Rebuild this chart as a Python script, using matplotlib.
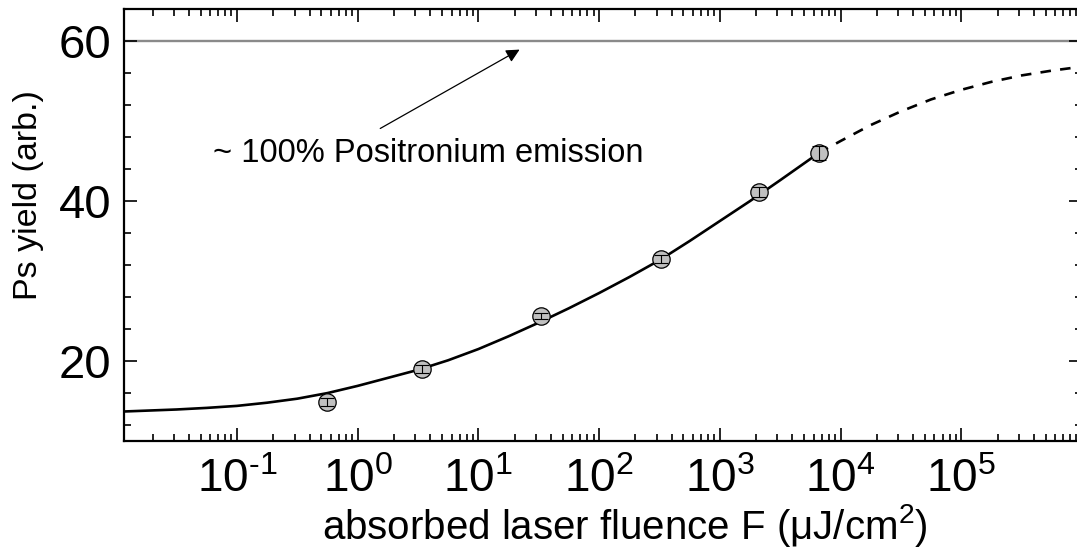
import matplotlib
matplotlib.use("Agg")
import matplotlib.pyplot as plt
from matplotlib.ticker import LogLocator, MultipleLocator, NullFormatter

plt.rcParams['font.family'] = ['Liberation Sans', 'DejaVu Sans']
plt.rcParams['mathtext.fontset'] = 'custom'
plt.rcParams['mathtext.rm'] = 'Liberation Sans'
plt.rcParams['mathtext.it'] = 'Liberation Sans:italic'
plt.rcParams['mathtext.default'] = 'regular'

# measured Ps yield vs absorbed fluence
fluence = [0.56, 3.4, 33, 325, 2100, 6600]
ps_yield = [14.9, 19.0, 25.6, 32.7, 41.1, 46.0]
yield_err = [0.5, 0.5, 0.4, 0.5, 0.6, 0.9]

# fit curve (solid part over data, dashed extrapolation)
fit_x = [0.0116, 0.0316, 0.0562, 0.1, 0.178, 0.316, 0.562, 1.0, 1.78, 3.16,
         5.62, 10, 17.8, 31.6, 56.2, 100, 178, 316, 562, 1000, 1780, 3160, 6600]
fit_y = [13.7, 13.95, 14.15, 14.4, 14.8, 15.3, 16.0, 16.9, 17.9, 18.9,
         20.1, 21.5, 23.1, 24.8, 26.6, 28.5, 30.5, 32.6, 35.0, 37.5, 40.0, 42.6, 46.0]
ext_x = [6600, 1e4, 1.78e4, 3.16e4, 5.62e4, 1e5, 1.78e5, 3.16e5, 5.62e5, 1e6]
ext_y = [46.0, 47.5, 49.5, 51.2, 52.7, 53.9, 54.9, 55.7, 56.3, 56.8]

x_ticks = [1e-1, 1, 10, 1e2, 1e3, 1e4, 1e5]
x_ticklabels = ['$10^{\u20101}$', '$10^{0}$', '$10^{1}$', '$10^{2}$',
                '$10^{3}$', '$10^{4}$', '$10^{5}$']

full_emission = 60

fig = plt.figure(figsize=(10.77, 5.5), dpi=100)
ax = fig.add_axes([0.1151, 0.198, 0.8895, 0.7856])

ax.axhline(full_emission, color='#8a8a8a', lw=1.7, zorder=1)
ax.plot(fit_x, fit_y, color='black', lw=1.9, zorder=3)
ax.plot(ext_x, ext_y, color='black', lw=1.9, ls=(0, (4, 3.5)), zorder=3)
ax.plot(fluence, ps_yield, 'o', ms=12.5, mfc='#c0c0c0', mec='black', mew=0.9, zorder=4)
ax.errorbar(fluence, ps_yield, yerr=yield_err, fmt='none', ecolor='black',
            elinewidth=0.8, capsize=5, capthick=0.8, zorder=5)

ax.annotate('', xy=(23, 59.1), xytext=(1.47, 48.9),
            arrowprops=dict(arrowstyle='-|>', color='black', lw=0.9,
                            mutation_scale=20))
ax.text(0.063, 44.9, '~ 100% Positronium emission', fontsize=23.5,
        ha='left', va='baseline')

ax.set_xscale('log')
ax.set_xlim(0.0116, 1e6)
ax.set_ylim(10, 64)
ax.xaxis.set_minor_locator(LogLocator(base=10, subs=range(2, 10), numticks=20))
ax.xaxis.set_minor_formatter(NullFormatter())
ax.set_xticks(x_ticks)
ax.set_xticklabels(x_ticklabels)
ax.yaxis.set_major_locator(MultipleLocator(20))
ax.yaxis.set_minor_locator(MultipleLocator(4))

ax.tick_params(which='both', direction='in', top=True, right=True, width=1.2)
ax.tick_params(which='major', length=9.5, labelsize=33)
ax.tick_params(axis='x', which='major', pad=12)
ax.tick_params(axis='y', which='major', labelsize=34, pad=9)
ax.tick_params(which='minor', length=5)
for s in ax.spines.values():
    s.set_linewidth(1.6)

ax.set_xlabel('absorbed laser fluence F (μJ/cm$^{2}$)', fontsize=29)
ax.set_ylabel('Ps yield (arb.)', fontsize=24.5)
ax.xaxis.set_label_coords(0.523, -0.142)
ax.yaxis.set_label_coords(-0.083, 0.569)

fig.savefig('out.png', dpi=100)
